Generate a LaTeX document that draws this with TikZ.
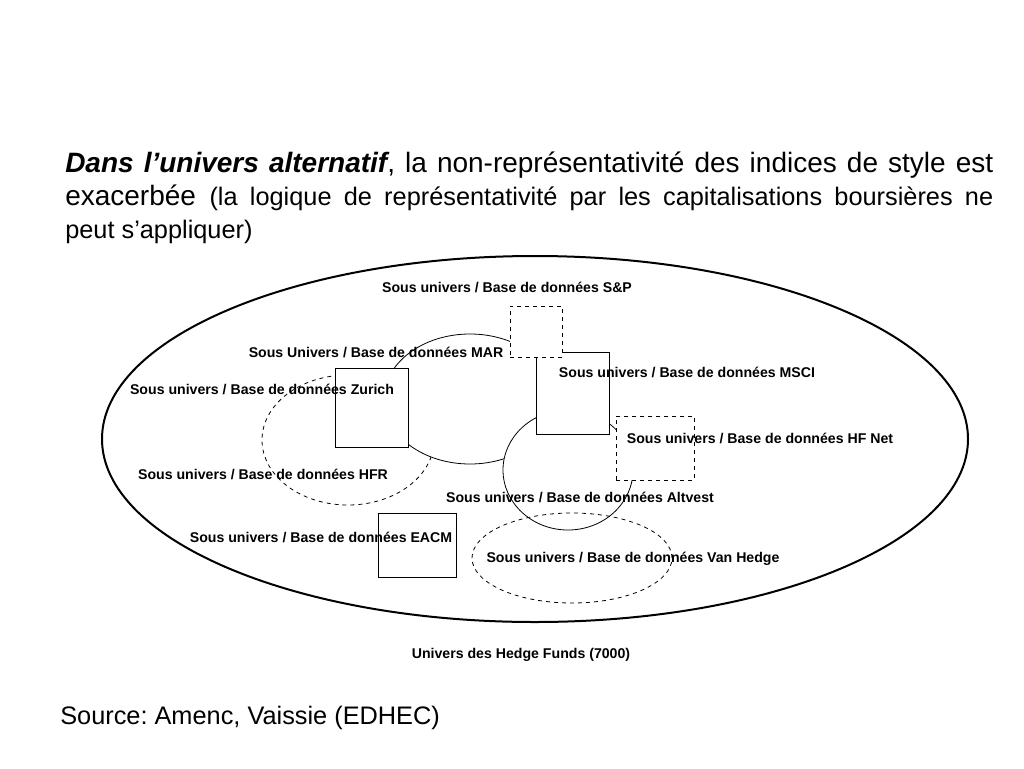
\documentclass[tikz,border=0pt]{standalone}
\usepackage{fontspec}
\setmainfont{Liberation Sans}
\usepackage{tikz}
\usetikzlibrary{positioning, shapes.geometric}
\frenchspacing

\begin{document}
\begin{tikzpicture}[
  x=0.75pt, y=-0.75pt,
  every node/.style={inner sep=0pt},
  univ/.style={draw, ellipse, line width=1.5pt},
  solidset/.style={draw, ellipse, line width=0.6pt, fill=white},
  dashset/.style={draw, ellipse, line width=0.6pt, dashed},
  solidbox/.style={draw, rectangle, line width=0.7pt, fill=white},
  dashbox/.style={draw, rectangle, line width=0.6pt, dashed, fill=white},
  lab/.style={font=\bfseries\fontsize{10.6}{12}\selectfont}
]
\useasboundingbox (0,0) rectangle (1024,768);

% Title
\node[anchor=north west, text width=696pt, align=justify, font=\fontsize{21}{24.75}\selectfont] (titre) at (65,152)
  {{\bfseries\itshape Dans l'univers alternatif}, la non-représentativité des indices de style est\linebreak exacerbée {\fontsize{19}{24.75}\selectfont (la logique de représentativité par les capitalisations boursières ne\linebreak peut s'appliquer)}};

% Whole universe
\node[univ, minimum width=866*0.75pt, minimum height=366*0.75pt] (univers) at (535,439) {};

% Sub universes
\node[dashset, fill=white, minimum width=172*0.75pt, minimum height=130*0.75pt] (hfr) at (348,440) {};
\node[solidset, minimum width=172*0.75pt, minimum height=130*0.75pt] (mar) at (470,399) {};
\node[solidset, minimum width=130*0.75pt, minimum height=120*0.75pt] (altvest) at (568,470) {};
\node[dashset, minimum width=200*0.75pt, minimum height=90*0.75pt] (vanhedge) at (572,558) {};

% Databases
\node[solidbox, minimum width=73*0.75pt, minimum height=79*0.75pt] (zurich) at (371.5,407.5) {};
\node[solidbox, minimum width=73*0.75pt, minimum height=82*0.75pt] (msci) at (572.5,393) {};
\node[dashbox, minimum width=52*0.75pt, minimum height=51*0.75pt] (sp) at (536,331.5) {};
\node[dashbox, minimum width=78*0.75pt, minimum height=64*0.75pt] (hfnet) at (655,448) {};
\node[solidbox, minimum width=78*0.75pt, minimum height=64*0.75pt] (eacm) at (417,545) {};

% Labels
\node[lab] (lsp) at (507,287) {Sous univers / Base de données S\&P};
\node[lab] (lmar) at (376,352) {Sous Univers / Base de données MAR};
\node[lab] (lmsci) at (687,372) {Sous univers / Base de données MSCI};
\node[lab] (lzurich) at (262,389) {Sous univers / Base de données Zurich};
\node[lab] (lhfnet) at (760,438) {Sous univers / Base de données HF Net};
\node[lab] (lhfr) at (263,474) {Sous univers / Base de données HFR};
\node[lab] (laltvest) at (580,497) {Sous univers / Base de données Altvest};
\node[lab] (leacm) at (321,537) {Sous univers / Base de données EACM};
\node[lab] (lvanhedge) at (633,559) {Sous univers / Base de données Van Hedge};
\node[lab] (luniv) at (521,655) {Univers des Hedge Funds (7000)};

% Source
\node[anchor=west] (source) at (60,718) {\fontsize{19}{23}\selectfont Source: Amenc, Vaissie (EDHEC)};

\end{tikzpicture}
\end{document}
